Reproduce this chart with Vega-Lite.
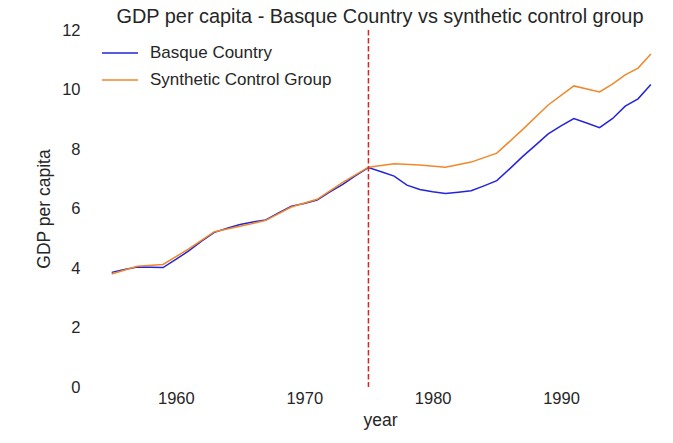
{
  "$schema": "https://vega.github.io/schema/vega-lite/v6.json",
  "autosize": "none",
  "width": 588,
  "height": 357,
  "padding": {"left": 86, "top": 30, "right": 0, "bottom": 56},
  "background": "white",
  "title": {
    "text": "GDP per capita - Basque Country vs synthetic control group",
    "fontSize": 19.9,
    "font": "Liberation Sans",
    "fontWeight": "normal",
    "color": "#262626",
    "anchor": "middle",
    "offset": -5
  },
  "datasets": {
    "gdp": [
      {"year": 1955, "gdp": 3.853, "series": "Basque Country"},
      {"year": 1956, "gdp": 3.946, "series": "Basque Country"},
      {"year": 1957, "gdp": 4.034, "series": "Basque Country"},
      {"year": 1958, "gdp": 4.023, "series": "Basque Country"},
      {"year": 1959, "gdp": 4.014, "series": "Basque Country"},
      {"year": 1960, "gdp": 4.286, "series": "Basque Country"},
      {"year": 1961, "gdp": 4.574, "series": "Basque Country"},
      {"year": 1962, "gdp": 4.899, "series": "Basque Country"},
      {"year": 1963, "gdp": 5.197, "series": "Basque Country"},
      {"year": 1964, "gdp": 5.339, "series": "Basque Country"},
      {"year": 1965, "gdp": 5.465, "series": "Basque Country"},
      {"year": 1966, "gdp": 5.546, "series": "Basque Country"},
      {"year": 1967, "gdp": 5.615, "series": "Basque Country"},
      {"year": 1968, "gdp": 5.852, "series": "Basque Country"},
      {"year": 1969, "gdp": 6.081, "series": "Basque Country"},
      {"year": 1970, "gdp": 6.170, "series": "Basque Country"},
      {"year": 1971, "gdp": 6.284, "series": "Basque Country"},
      {"year": 1972, "gdp": 6.556, "series": "Basque Country"},
      {"year": 1973, "gdp": 6.811, "series": "Basque Country"},
      {"year": 1974, "gdp": 7.105, "series": "Basque Country"},
      {"year": 1975, "gdp": 7.378, "series": "Basque Country"},
      {"year": 1976, "gdp": 7.233, "series": "Basque Country"},
      {"year": 1977, "gdp": 7.090, "series": "Basque Country"},
      {"year": 1978, "gdp": 6.787, "series": "Basque Country"},
      {"year": 1979, "gdp": 6.640, "series": "Basque Country"},
      {"year": 1980, "gdp": 6.562, "series": "Basque Country"},
      {"year": 1981, "gdp": 6.501, "series": "Basque Country"},
      {"year": 1982, "gdp": 6.545, "series": "Basque Country"},
      {"year": 1983, "gdp": 6.596, "series": "Basque Country"},
      {"year": 1984, "gdp": 6.762, "series": "Basque Country"},
      {"year": 1985, "gdp": 6.938, "series": "Basque Country"},
      {"year": 1986, "gdp": 7.332, "series": "Basque Country"},
      {"year": 1987, "gdp": 7.743, "series": "Basque Country"},
      {"year": 1988, "gdp": 8.121, "series": "Basque Country"},
      {"year": 1989, "gdp": 8.510, "series": "Basque Country"},
      {"year": 1990, "gdp": 8.777, "series": "Basque Country"},
      {"year": 1991, "gdp": 9.025, "series": "Basque Country"},
      {"year": 1992, "gdp": 8.874, "series": "Basque Country"},
      {"year": 1993, "gdp": 8.718, "series": "Basque Country"},
      {"year": 1994, "gdp": 9.018, "series": "Basque Country"},
      {"year": 1995, "gdp": 9.441, "series": "Basque Country"},
      {"year": 1996, "gdp": 9.687, "series": "Basque Country"},
      {"year": 1997, "gdp": 10.171, "series": "Basque Country"},
      {"year": 1955, "gdp": 3.80, "series": "Synthetic Control Group"},
      {"year": 1957, "gdp": 4.06, "series": "Synthetic Control Group"},
      {"year": 1959, "gdp": 4.12, "series": "Synthetic Control Group"},
      {"year": 1961, "gdp": 4.64, "series": "Synthetic Control Group"},
      {"year": 1963, "gdp": 5.22, "series": "Synthetic Control Group"},
      {"year": 1965, "gdp": 5.40, "series": "Synthetic Control Group"},
      {"year": 1967, "gdp": 5.60, "series": "Synthetic Control Group"},
      {"year": 1969, "gdp": 6.05, "series": "Synthetic Control Group"},
      {"year": 1971, "gdp": 6.31, "series": "Synthetic Control Group"},
      {"year": 1973, "gdp": 6.88, "series": "Synthetic Control Group"},
      {"year": 1975, "gdp": 7.39, "series": "Synthetic Control Group"},
      {"year": 1977, "gdp": 7.50, "series": "Synthetic Control Group"},
      {"year": 1979, "gdp": 7.46, "series": "Synthetic Control Group"},
      {"year": 1981, "gdp": 7.39, "series": "Synthetic Control Group"},
      {"year": 1983, "gdp": 7.56, "series": "Synthetic Control Group"},
      {"year": 1985, "gdp": 7.86, "series": "Synthetic Control Group"},
      {"year": 1987, "gdp": 8.65, "series": "Synthetic Control Group"},
      {"year": 1989, "gdp": 9.48, "series": "Synthetic Control Group"},
      {"year": 1991, "gdp": 10.12, "series": "Synthetic Control Group"},
      {"year": 1993, "gdp": 9.92, "series": "Synthetic Control Group"},
      {"year": 1994, "gdp": 10.18, "series": "Synthetic Control Group"},
      {"year": 1995, "gdp": 10.49, "series": "Synthetic Control Group"},
      {"year": 1996, "gdp": 10.72, "series": "Synthetic Control Group"},
      {"year": 1997, "gdp": 11.19, "series": "Synthetic Control Group"}
    ],
    "treatment": [{"year": 1975}]
  },
  "layer": [
    {
      "data": {"name": "gdp"},
      "mark": {"type": "line", "strokeWidth": 1.5},
      "encoding": {
        "x": {
          "field": "year",
          "type": "quantitative",
          "title": "year",
          "scale": {"domain": [1953, 1998.8], "nice": false, "zero": false},
          "axis": {"values": [1960, 1970, 1980, 1990], "format": "d"}
        },
        "y": {
          "field": "gdp",
          "type": "quantitative",
          "title": "GDP per capita",
          "scale": {"domain": [0, 12], "nice": false},
          "axis": {"values": [0, 2, 4, 6, 8, 10, 12]}
        },
        "color": {
          "field": "series",
          "type": "nominal",
          "scale": {
            "domain": ["Basque Country", "Synthetic Control Group"],
            "range": ["#2424d8", "#f0882a"]
          },
          "legend": {
            "title": null,
            "orient": "none",
            "legendX": 15,
            "legendY": 4,
            "symbolType": "stroke",
            "symbolSize": 1296,
            "symbolStrokeWidth": 1.5,
            "labelFontSize": 17,
            "labelFont": "Liberation Sans",
            "labelColor": "#262626",
            "labelOffset": 11,
            "labelLimit": 400,
            "rowPadding": -18
          }
        }
      }
    },
    {
      "data": {"name": "treatment"},
      "mark": {"type": "rule", "color": "#dc2222", "strokeWidth": 1.5, "strokeDash": [5.5, 2.5]},
      "encoding": {
        "x": {"field": "year", "type": "quantitative"}
      }
    }
  ],
  "config": {
    "view": {"stroke": null},
    "axis": {
      "grid": false,
      "domain": false,
      "ticks": false,
      "labelFont": "Liberation Sans",
      "labelFontSize": 16.5,
      "labelColor": "#262626",
      "titleFont": "Liberation Sans",
      "titleFontSize": 17.5,
      "titleFontWeight": "normal",
      "titleColor": "#262626"
    },
    "axisX": {"labelPadding": 3, "titlePadding": 5},
    "axisY": {"labelPadding": 6, "titlePadding": 8}
  }
}
